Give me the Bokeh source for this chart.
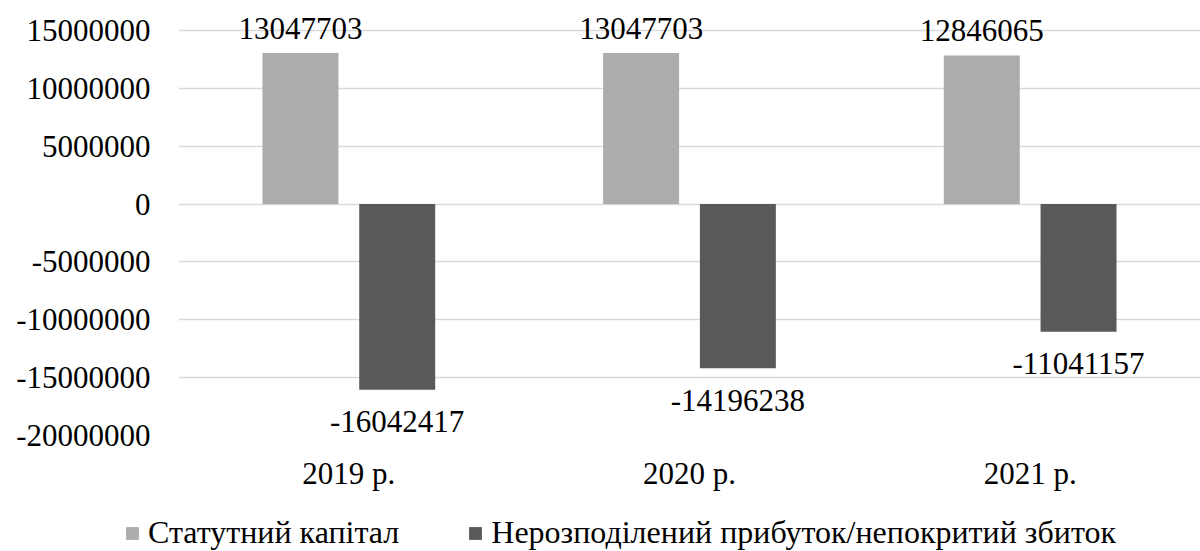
from bokeh.plotting import figure
from bokeh.models import (ColumnDataSource, FactorRange, Range1d, Legend, LegendItem,
                          FixedTicker, NumeralTickFormatter)
from bokeh.layouts import column
from bokeh.transform import dodge
from bokeh.core.properties import value
from bokeh.embed import file_html
from bokeh.resources import INLINE

years = ["2019 р.", "2020 р.", "2021 р."]
capital = [13047703, 13047703, 12846065]
profit = [-16042417, -14196238, -11041157]
series_names = ["Статутний капітал", "Нерозподілений прибуток/непокритий збиток"]
y_ticks = [-20000000, -15000000, -10000000, -5000000, 0, 5000000, 10000000, 15000000]

FONT = "Liberation Serif"
FS = "31px"
FS_LEG = "32px"
C1 = "#AEABAB"
C2 = "#595959"

src = ColumnDataSource(dict(
    year=years,
    cap=capital,
    prof=profit,
    cap_lbl=[str(v) for v in capital],
    prof_lbl=[str(v) for v in profit],
))

W = 1200
H_MAIN = 495
H_LEG = 56

p = figure(
    width=W, height=H_MAIN,
    x_range=FactorRange(*years, range_padding=0),
    y_range=Range1d(-20000000, 16557000),
    output_backend="svg", toolbar_location=None,
    min_border_left=178, min_border_right=0, min_border_top=12, min_border_bottom=H_MAIN - 12 - 423,
)
p.frame_align = False
p.outline_line_color = None

w = 0.223
off = 0.142
r1 = p.vbar(x=dodge("year", -off, range=p.x_range), top="cap", bottom=0, width=w,
            source=src, fill_color=C1, line_color=None)
r2 = p.vbar(x=dodge("year", off, range=p.x_range), top="prof", bottom=0, width=w,
            source=src, fill_color=C2, line_color=None)

p.text(x=dodge("year", -off, range=p.x_range), y="cap", text="cap_lbl", source=src,
       text_align="center", text_baseline="middle", y_offset=-25,
       text_font=value(FONT), text_font_size=FS, text_color="#000000")
p.text(x=dodge("year", off, range=p.x_range), y="prof", text="prof_lbl", source=src,
       text_align="center", text_baseline="middle", y_offset=32,
       text_font=value(FONT), text_font_size=FS, text_color="#000000")

# axes
p.yaxis.ticker = FixedTicker(ticks=y_ticks)
p.yaxis.formatter = NumeralTickFormatter(format="0")
for ax in (p.xaxis[0], p.yaxis[0]):
    ax.axis_line_color = None
    ax.major_tick_line_color = None
    ax.minor_tick_line_color = None
    ax.major_label_text_font = FONT
    ax.major_label_text_font_size = FS
    ax.major_label_text_color = "#000000"
p.yaxis.major_label_standoff = 22
p.xaxis.major_label_standoff = 14

p.xgrid.grid_line_color = None
p.ygrid.grid_line_color = "#D9D9D9"
p.ygrid.grid_line_width = 1.3

# legend strip (own figure, same series drawn out of view so only the legend shows)
pl = figure(
    width=W, height=H_LEG,
    x_range=FactorRange(*years, range_padding=0),
    y_range=Range1d(1e12, 2e12),
    output_backend="svg", toolbar_location=None,
    min_border_left=0, min_border_right=0, min_border_top=0, min_border_bottom=0,
)
pl.frame_align = False
pl.axis.visible = False
pl.grid.visible = False
pl.outline_line_color = None
l1 = pl.vbar(x="year", top="cap", bottom=0, width=w, source=src, fill_color=C1, line_color=None)
l2 = pl.vbar(x="year", top="prof", bottom=0, width=w, source=src, fill_color=C2, line_color=None)

legend = Legend(
    items=[LegendItem(label=series_names[0], renderers=[l1]),
           LegendItem(label=series_names[1], renderers=[l2])],
    orientation="horizontal",
    location=(124, 0),
    glyph_width=16, glyph_height=16,
    label_standoff=8, spacing=68,
    padding=0, margin=0,
    label_text_font="'Liberation Serif', serif", label_text_font_size=FS_LEG,
    label_text_color="#000000",
    border_line_color=None, background_fill_alpha=0,
)
pl.add_layout(legend, "center")

layout = column(p, pl, spacing=0)
open("out.html", "w").write(file_html(layout, INLINE))
